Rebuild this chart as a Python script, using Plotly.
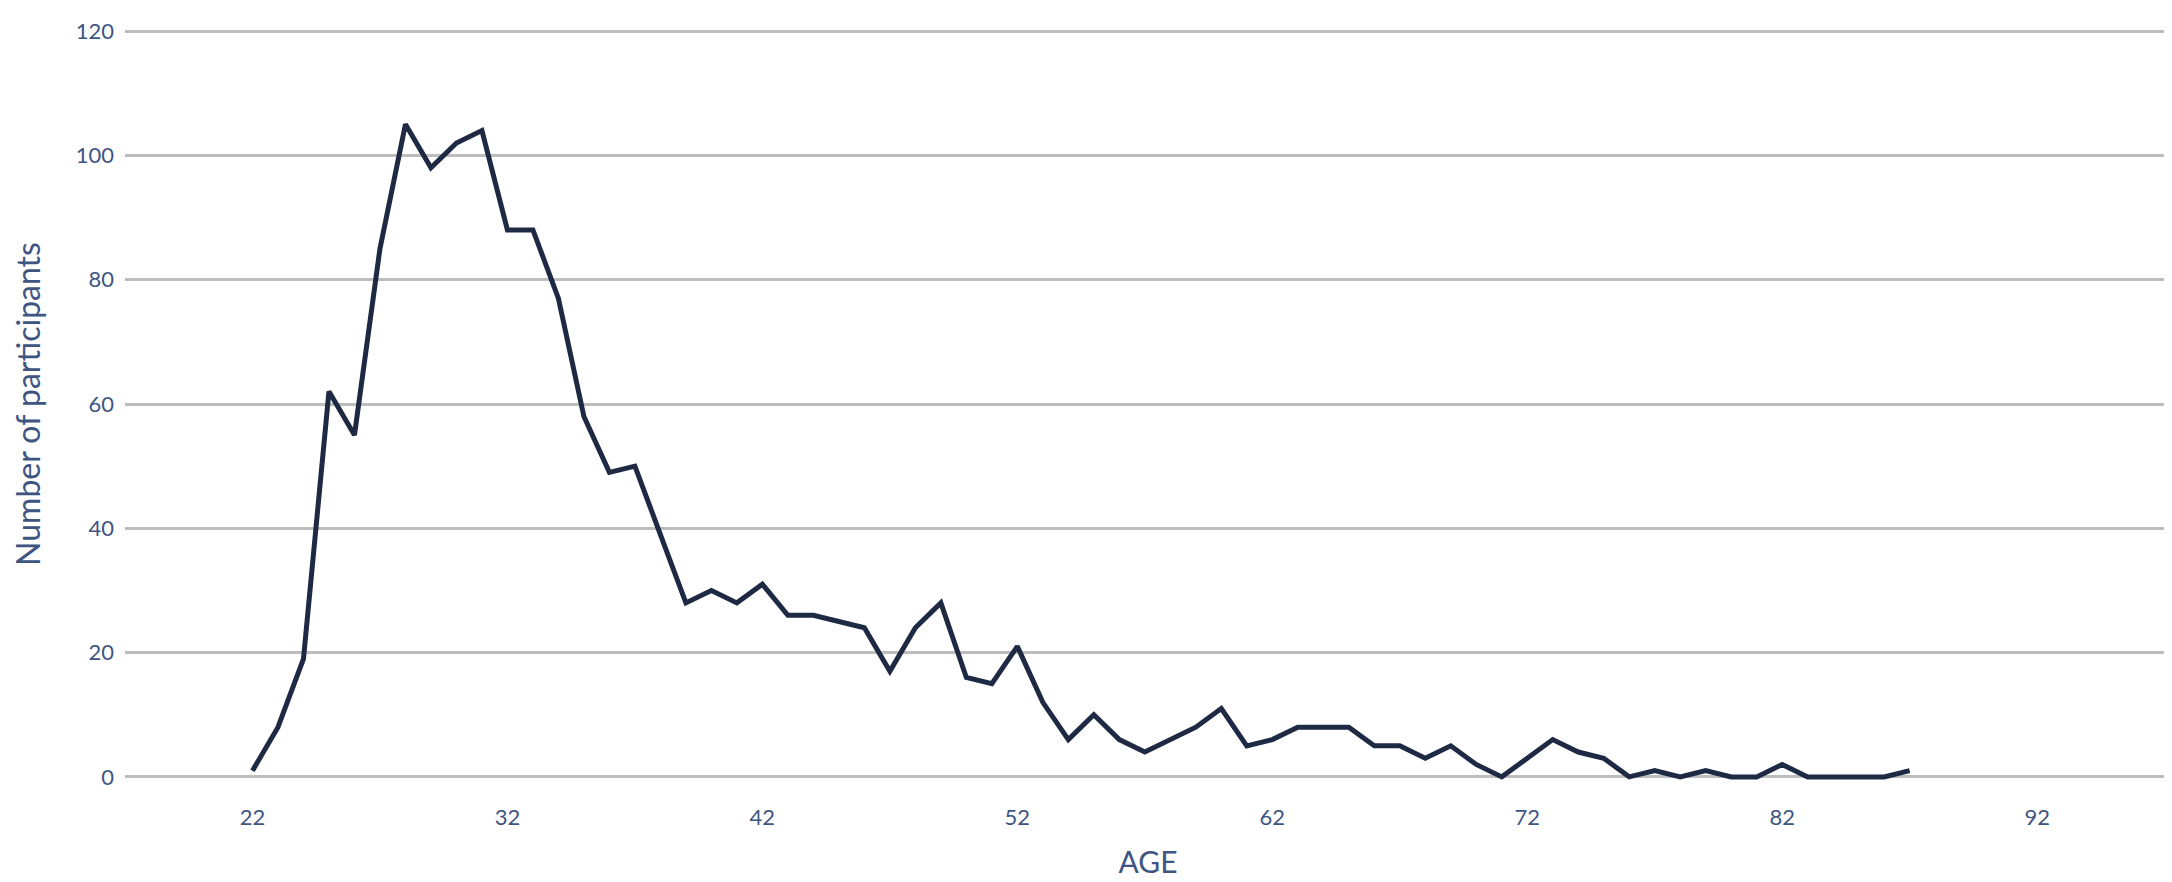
import plotly.graph_objects as go

ages = list(range(22, 88))
participants = [1, 8, 19, 62, 55, 85, 105, 98, 102, 104,
                88, 88, 77, 58, 49, 50, 39, 28, 30, 28,
                31, 26, 26, 25, 24, 17, 24, 28, 16, 15,
                21, 12, 6, 10, 6, 4, 6, 8, 11, 5,
                6, 8, 8, 8, 5, 5, 3, 5, 2, 0,
                3, 6, 4, 3, 0, 1, 0, 1, 0, 0,
                2, 0, 0, 0, 0, 1]
x_ticks = [22, 32, 42, 52, 62, 72, 82, 92]
y_ticks = [0, 20, 40, 60, 80, 100, 120]

text_color = "#3E5582"
font_family = "Lato, 'Open Sans', sans-serif"

fig = go.Figure()
fig.add_trace(go.Scatter(
    x=ages, y=participants, mode="lines",
    line=dict(color="#1E2A44", width=5),
    showlegend=False,
))

fig.update_layout(
    width=2172, height=882,
    margin=dict(l=117, r=9, t=12, b=110),
    paper_bgcolor="white", plot_bgcolor="white",
    font=dict(family=font_family, color=text_color, size=22),
    xaxis=dict(
        range=[17, 97.25], tickvals=x_ticks, showgrid=False, zeroline=False,
        showline=False, ticks="", ticklabelstandoff=22,
        tickfont=dict(size=22, color=text_color),
        title=dict(text="AGE", font=dict(size=30, color=text_color), standoff=22),
    ),
    yaxis=dict(
        range=[-0.5, 120.5], tickvals=y_ticks, showgrid=True, gridcolor="#BDBDBD",
        gridwidth=3, zeroline=False, showline=False, ticks="",
        ticklabelstandoff=10,
        tickfont=dict(size=22, color=text_color),
        title=dict(text="Number of participants", font=dict(size=32, color=text_color), standoff=30),
    ),
)

fig.write_html("out.html")
